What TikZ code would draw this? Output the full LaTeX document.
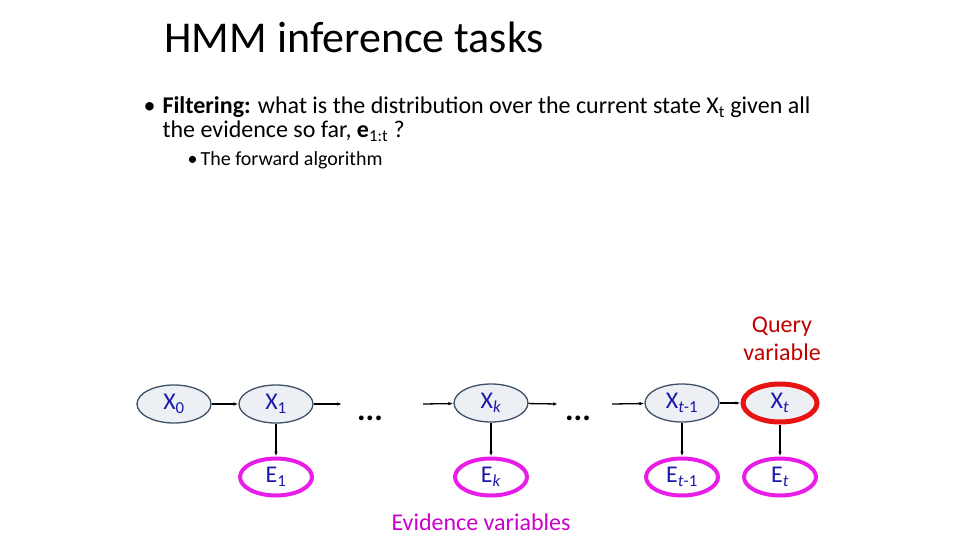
\documentclass[tikz,border=0pt]{standalone}
\usepackage{fontspec}
\setmainfont{Carlito}
\usetikzlibrary{arrows.meta,shapes.geometric}
\definecolor{HMMslate}{RGB}{61,80,104}
\definecolor{HMMfill}{RGB}{236,239,244}
\definecolor{HMMblue}{RGB}{26,26,170}
\definecolor{HMMmag}{RGB}{232,30,232}
\definecolor{HMMred}{RGB}{232,20,20}
\definecolor{HMMdark}{RGB}{192,0,0}
\definecolor{HMMev}{RGB}{204,0,204}

\begin{document}
\begin{tikzpicture}[x=1pt, y=-1pt, every node/.style={font=\fontsize{24}{28}\selectfont},
  hid/.style={ellipse,draw=HMMslate,line width=1.3pt,fill=HMMfill,text=HMMblue,minimum width=74pt,minimum height=38pt,inner sep=0pt},
  ev/.style={ellipse,draw=HMMmag,line width=4pt,fill=white,text=HMMblue,minimum width=72pt,minimum height=37pt,inner sep=0pt},
  a/.style={-{Latex[length=5pt,width=3.5pt]},line width=1.3pt}]
\useasboundingbox (0,0) rectangle (960,540);
\node[anchor=base west,font=\fontsize{44}{52}\selectfont] (title) at (161,53) {HMM inference tasks};
\node[anchor=base west] (b1) at (140,114) {•};
\node[anchor=base west] (l1) at (159,114) {\textbf{Filtering:} what is the distribution over the current state X\textsubscript{t} given all};
\node[anchor=base west] (l2) at (159,138) {the evidence so far, \textbf{e}\textsubscript{1:t} ?};
\node[anchor=base west,font=\fontsize{20}{24}\selectfont] (b2) at (184,166) {•};
\node[anchor=base west,font=\fontsize{20}{24}\selectfont] (l3) at (197,166) {The forward algorithm};
\node[hid] (x0) at (174,404) {X\textsubscript{0}};
\node[hid] (x1) at (276,404) {X\textsubscript{1}};
\node[hid] (xk) at (491,403) {X\textsubscript{\textit{k}}};
\node[hid] (xt1) at (682,403) {X\textsubscript{\textit{t}-1}};
\node[hid,draw=HMMred,line width=5pt] (xt) at (780,403) {X\textsubscript{\textit{t}}};
\node[ev] (e1) at (276,477) {E\textsubscript{1}};
\node[ev] (ek) at (491,477) {E\textsubscript{\textit{k}}};
\node[ev] (et1) at (682,477) {E\textsubscript{\textit{t}-1}};
\node[ev] (et) at (780,477) {E\textsubscript{\textit{t}}};
\node[font=\fontsize{32}{34}\selectfont\bfseries] (d1) at (370,418) {...};
\node[font=\fontsize{32}{34}\selectfont\bfseries] (d2) at (578,418) {...};
\coordinate (c1) at (342,404);
\coordinate (c2) at (423,404);
\coordinate (c3) at (558,404);
\coordinate (c4) at (612,404);
\draw[a] (x0) -- (x1);
\draw[a] (x1) -- (c1);
\draw[a] (c2) -- (xk);
\draw[a] (xk) -- (c3);
\draw[a] (c4) -- (xt1);
\draw[a] (xt1) -- (xt);
\draw[a] (x1) -- (e1);
\draw[a] (xk) -- (ek);
\draw[a] (xt1) -- (et1);
\draw[a] (xt) -- (et);
\node[align=center,text=HMMdark,font=\fontsize{24}{28}\selectfont] (query) at (782,339) {Query\\variable};
\node[text=HMMev] (evid) at (481,522) {Evidence variables};
\end{tikzpicture}
\end{document}
